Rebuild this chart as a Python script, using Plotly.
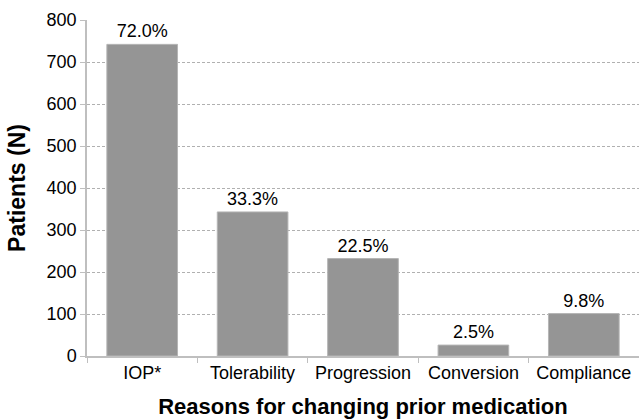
import plotly.graph_objects as go

categories = ["IOP*", "Tolerability", "Progression", "Conversion", "Compliance"]
patients = [742, 343, 232, 26, 101]
pct_labels = ["72.0%", "33.3%", "22.5%", "2.5%", "9.8%"]
y_ticks = [0, 100, 200, 300, 400, 500, 600, 700, 800]

FONT = "Liberation Sans, Arial, sans-serif"

fig = go.Figure(go.Bar(
    x=categories, y=patients, text=pct_labels, textposition="outside",
    cliponaxis=False,
    textfont=dict(family=FONT, size=18, color="#000000"),
    marker=dict(color="#959595", line=dict(color="#b5b5b5", width=1)),
))

fig.update_layout(
    width=639, height=419,
    margin=dict(l=87, r=0, t=20, b=63),
    paper_bgcolor="white", plot_bgcolor="white",
    bargap=0.36, showlegend=False,
    font=dict(family=FONT, color="#000000"),
)
fig.update_xaxes(
    type="category", tickson="boundaries", ticks="outside", ticklen=5,
    tickcolor="#bfbfbf", showline=True, linecolor="#bfbfbf", linewidth=1.5,
    tickfont=dict(size=18), showgrid=False,
    title=dict(text="<b>Reasons for changing prior medication</b>", font=dict(size=22), standoff=17),
)
fig.update_yaxes(
    range=[0, 800], tickvals=y_ticks, ticks="outside", ticklen=5,
    tickcolor="#bfbfbf", showline=True, linecolor="#bfbfbf", linewidth=1.5,
    showgrid=True, gridcolor="#b0b0b0", griddash="3px,2px", gridwidth=1,
    tickfont=dict(size=18), zeroline=False,
    title=dict(text="<b>Patients (N)</b>", font=dict(size=23), standoff=15),
)

fig.write_html(
    "out.html",
    config={"displayModeBar": False},
    post_script="document.body.style.margin='0';document.body.style.overflow='hidden';",
)
